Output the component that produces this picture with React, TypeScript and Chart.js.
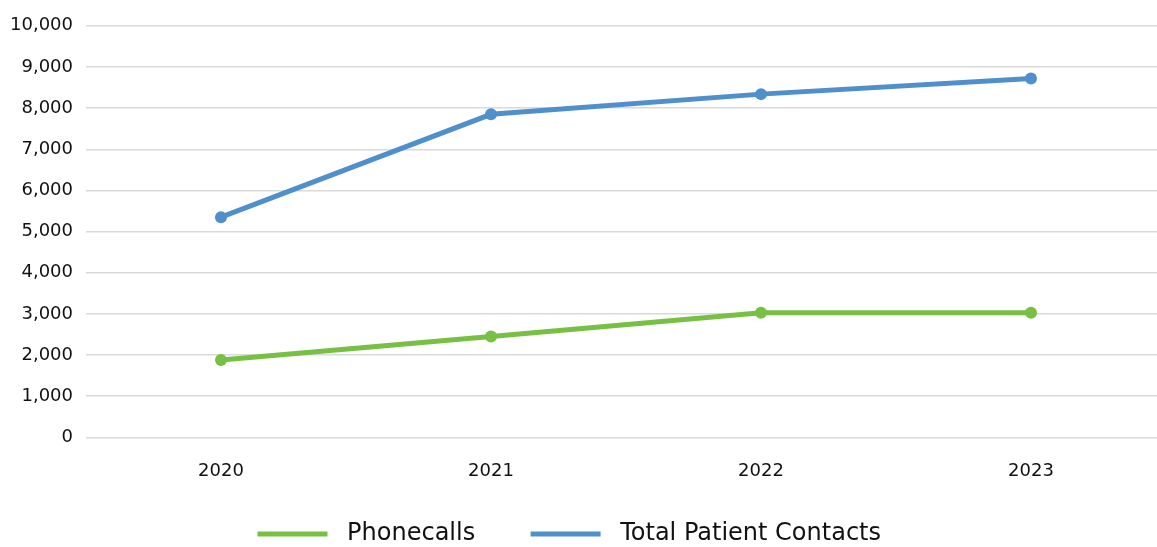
import React, { useEffect, useRef } from "react";
import { Chart, registerables } from "chart.js";

Chart.register(...registerables);

const categories = ["2020", "2021", "2022", "2023"];
const phonecalls = [1880, 2450, 3030, 3030];
const totalContacts = [5350, 7850, 8340, 8720];
const seriesNames = ["Phonecalls", "Total Patient Contacts"];
const yMin = 0;
const yMax = 10000;
const yStep = 1000;

const GREEN = "#77c044";
const BLUE = "#4f8fcc";
const FONT = "'DejaVu Sans', sans-serif";

export default function App() {
  const ref = useRef<HTMLCanvasElement | null>(null);

  useEffect(() => {
    if (!ref.current) return;
    const chart = new Chart(ref.current, {
      type: "line",
      data: {
        labels: categories,
        datasets: [
          {
            label: seriesNames[0],
            data: phonecalls,
            borderColor: GREEN,
            backgroundColor: GREEN,
            borderWidth: 5,
            pointRadius: 6,
            pointBorderWidth: 0,
            pointBackgroundColor: GREEN,
            tension: 0,
          },
          {
            label: seriesNames[1],
            data: totalContacts,
            borderColor: BLUE,
            backgroundColor: BLUE,
            borderWidth: 5,
            pointRadius: 6,
            pointBorderWidth: 0,
            pointBackgroundColor: BLUE,
            tension: 0,
          },
        ],
      },
      options: {
        responsive: true,
        maintainAspectRatio: false,
        animation: false,
        layout: { padding: { top: 13, left: -3, right: 0, bottom: -9 } },
        plugins: {
          tooltip: { enabled: false },
          legend: {
            position: "bottom",
            labels: {
              font: { family: FONT, size: 24 },
              color: "#111",
              boxWidth: 70,
              boxHeight: 5,
              padding: 2,
              useBorderRadius: true,
              borderRadius: 2.5,
              generateLabels: (c: any) =>
                c.data.datasets.map((ds: any, i: number) => ({
                  text: " " + ds.label + (i === 0 ? "       " : "    "),
                  fillStyle: ds.borderColor,
                  strokeStyle: ds.borderColor,
                  lineWidth: 0,
                  hidden: false,
                  datasetIndex: i,
                  fontColor: "#111",
                })),
            },
          },
        },
        scales: {
          x: {
            offset: true,
            grid: { display: false, drawTicks: false },
            border: { display: false },
            ticks: {
              font: { family: FONT, size: 18 },
              color: "#111",
              padding: 23,
            },
            afterFit: (scale: any) => {
              scale.height += 15;
            },
          },
          y: {
            min: yMin,
            max: yMax,
            grid: { color: "#d9d9d9", lineWidth: 1.5, drawTicks: false },
            border: { display: false },
            ticks: {
              stepSize: yStep,
              font: { family: FONT, size: 18 },
              color: "#111",
              padding: 13,
              callback: (v: any) => Number(v).toLocaleString("en-US"),
            },
          },
        },
      },
    });
    return () => chart.destroy();
  }, []);

  return (
    <div
      style={{
        position: "fixed",
        left: 0,
        top: 2,
        width: 1172,
        height: 545,
        background: "#fff",
      }}
    >
      <canvas ref={ref} />
    </div>
  );
}
